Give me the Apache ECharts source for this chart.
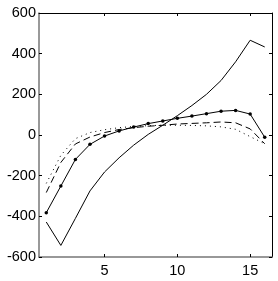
<!DOCTYPE html>
<html>
<head>
<meta charset="utf-8">
<script src="https://cdn.jsdelivr.net/npm/echarts@6/dist/echarts.min.js"></script>
<style>html,body{margin:0;padding:0;background:#fff}#c{width:278px;height:281px}</style>
</head>
<body>
<div id="c"></div>
<script>
var xs = [1,2,3,4,5,6,7,8,9,10,11,12,13,14,15,16];
var solidA = [-428,-543,-410,-275,-182,-112,-50,3,48,95,145,200,268,360,466,433];
var markedB = [-382,-251,-120,-46,-5,20,39,56,69,82,93,105,117,121,103,-11];
var dashedC = [-283,-135,-44,-10,12,27,36,43,48,54,57,60,64,60,30,-43];
var dottedD = [-238,-100,-18,12,26,36,42,46,48,48,47,45,40,28,-8,-43];
var xTicks = [5,10,15];
var yTicks = [-600,-400,-200,0,200,400,600];

function pairs(v){ return xs.map(function(x,i){ return [x, v[i]]; }); }

var chart = echarts.init(document.getElementById('c'), null, {renderer:'canvas'});
var font = {fontFamily:'Liberation Sans, Arial, sans-serif', fontSize:14.5, color:'#000'};
chart.setOption({
  animation:false,
  grid:{left:39, right:6, top:13, bottom:24},
  xAxis:[{
    type:'value', min:0.5, max:16.5, position:'bottom',
    axisLine:{onZero:false, lineStyle:{color:'#777', width:1.5}},
    axisTick:{inside:true, length:3, customValues:xTicks, lineStyle:{color:'#000'}},
    axisLabel:Object.assign({customValues:xTicks, margin:6}, font),
    splitLine:{show:false}
  },{
    type:'value', min:0.5, max:16.5, position:'top',
    axisLine:{onZero:false, lineStyle:{color:'#000', width:1}},
    axisTick:{inside:true, length:3, customValues:xTicks, lineStyle:{color:'#000'}},
    axisLabel:{show:false},
    splitLine:{show:false}
  }],
  yAxis:[{
    type:'value', min:-600, max:600, interval:200, position:'left',
    axisLine:{show:true, onZero:false, lineStyle:{color:'#777', width:1.5}},
    axisTick:{show:true, inside:true, length:3, lineStyle:{color:'#000'}},
    axisLabel:Object.assign({margin:3}, font),
    splitLine:{show:false}
  },{
    type:'value', min:-600, max:600, interval:200, position:'right',
    axisLine:{show:true, onZero:false, lineStyle:{color:'#000', width:1}},
    axisTick:{show:true, inside:true, length:3, lineStyle:{color:'#000'}},
    axisLabel:{show:false},
    splitLine:{show:false}
  }],
  series:[
    {type:'line', data:pairs(solidA), showSymbol:false, symbol:'none', lineStyle:{color:'#000', width:1}},
    {type:'line', data:pairs(markedB), symbol:'circle', symbolSize:3.5, itemStyle:{color:'#000'}, lineStyle:{color:'#000', width:1}},
    {type:'line', data:pairs(dashedC), symbol:'none', lineStyle:{color:'#000', width:1, type:[7,4]}},
    {type:'line', data:pairs(dottedD), symbol:'none', lineStyle:{color:'#000', width:1, type:[1,4]}}
  ]
});
</script>
</body>
</html>
